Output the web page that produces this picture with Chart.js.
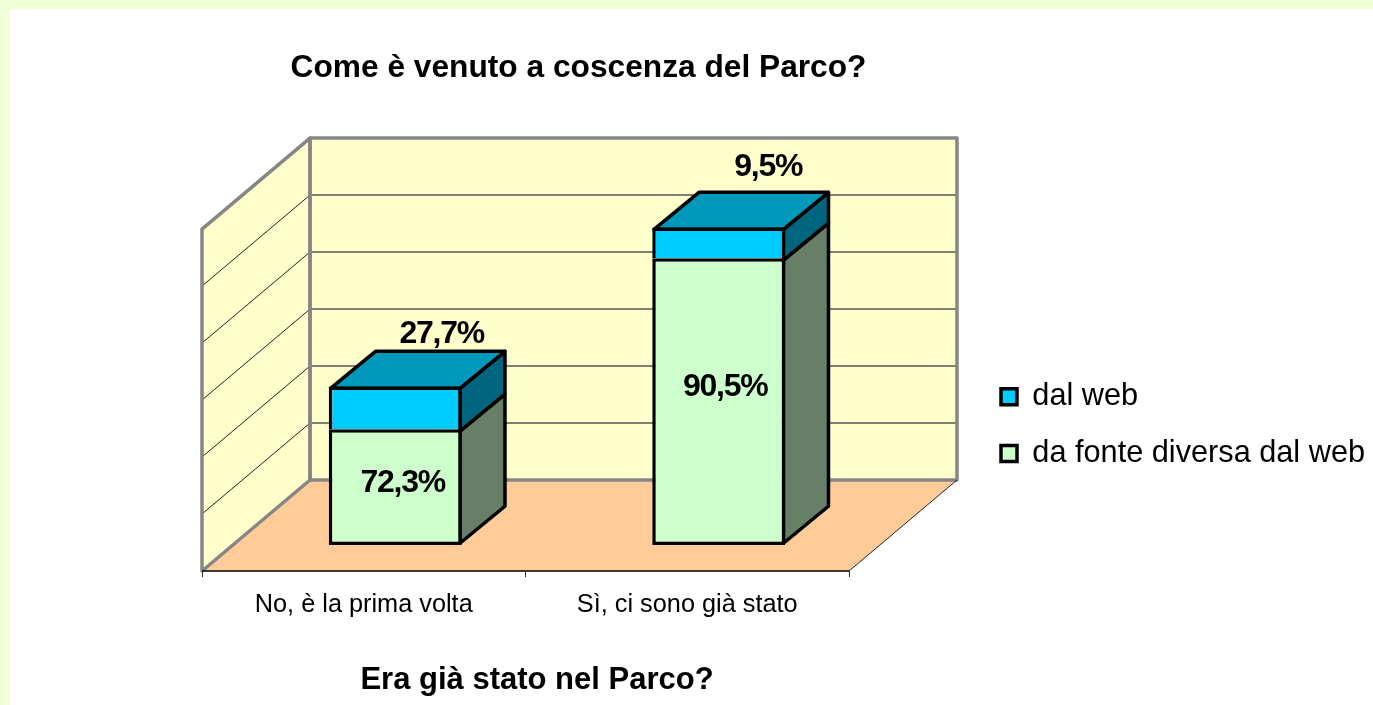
<!DOCTYPE html>
<html lang="it">

<head>
    <meta charset="UTF-8">
    <title>Come è venuto a coscenza del Parco?</title>
    <style>
        html, body { margin: 0; padding: 0; overflow: hidden; background: #fff; }
        canvas { display: block; }
    </style>
</head>

<body>
    <canvas id="myChart" width="1373" height="705"></canvas>

    <script src="https://cdn.jsdelivr.net/npm/chart.js"></script>
    <script>
        const categorie = ['No, è la prima volta', 'Sì, ci sono già stato'];
        const serieNomi = ['da fonte diversa dal web', 'dal web'];
        // bar heights on a 0-60 axis
        const altezzaAltro = [20.3, 50.3];
        const altezzaWeb = [7.5, 5.4];
        // percentages printed on the bars
        const percAltro = [72.3, 90.5];
        const percWeb = [27.7, 9.5];
        const asseMax = 60;
        const asseStep = 10;

        const FONT = '"Liberation Sans", Arial, sans-serif';
        const wall = { dx: 108, dy: -91 };      // depth of the whole 3d box
        const piano = { dx: 31.5, dy: -26 };    // bars stand this far into the box
        const cubo = { dx: 45, dy: -37 };       // depth of one bar
        const bordo = 3.5;
        const nudgeAltro = [[7.5, -4], [6.5, -14]];
        const nudgeWeb = [[46.5, -52], [49.5, -60]];

        function poly(ctx, pts, fill, stroke, lw) {
            ctx.beginPath();
            pts.forEach((p, i) => i ? ctx.lineTo(p[0], p[1]) : ctx.moveTo(p[0], p[1]));
            ctx.closePath();
            if (fill) { ctx.fillStyle = fill; ctx.fill(); }
            if (stroke) { ctx.strokeStyle = stroke; ctx.lineWidth = lw; ctx.stroke(); }
        }

        function line(ctx, x1, y1, x2, y2, color, lw) {
            ctx.beginPath();
            ctx.moveTo(x1, y1);
            ctx.lineTo(x2, y2);
            ctx.strokeStyle = color;
            ctx.lineWidth = lw;
            ctx.stroke();
        }

        const sfondo3d = {
            id: 'sfondo3d',
            afterLayout(chart) {
                // title, legend and axis title do not sit where the layout puts them
                const t = chart.titleBlock;
                t.left = 0;
                t.right = 1157;
                const l = chart.legend;
                l.left = 975;
                l.right = 1373;
                l.top = 355.5;
                l.bottom = 700;
                chart.scales.x.right += 23;
            },
            beforeDraw(chart) {
                const ctx = chart.ctx;
                const a = chart.chartArea;
                const y = chart.scales.y;
                ctx.save();
                ctx.fillStyle = '#F2FFD6';
                ctx.fillRect(0, 0, chart.width, chart.height);
                ctx.fillStyle = '#fff';
                ctx.fillRect(10, 9, chart.width - 10, chart.height - 9);

                const bx1 = a.left + wall.dx, bx2 = a.right + wall.dx;
                const bTop = a.top + wall.dy, bBot = a.bottom + wall.dy;
                ctx.lineJoin = 'round';
                poly(ctx, [[a.left, a.bottom], [bx1, bBot], [bx2, bBot], [a.right, a.bottom]], '#FFCC99');
                poly(ctx, [[a.left, a.top], [bx1, bTop], [bx1, bBot], [a.left, a.bottom]], '#FFFFCC');
                ctx.fillStyle = '#FFFFCC';
                ctx.fillRect(bx1, bTop, bx2 - bx1, bBot - bTop);

                y.ticks.forEach(t => {
                    if (t.value === 0 || t.value === asseMax) return;
                    const py = y.getPixelForValue(t.value);
                    line(ctx, a.left, py, bx1, py + wall.dy, '#222', 1);
                    line(ctx, bx1, py + wall.dy, bx2, py + wall.dy, '#555', 1.5);
                });

                poly(ctx, [[a.left, a.top], [bx1, bTop], [bx1, bBot], [a.left, a.bottom]], null, '#868686', 3.5);
                ctx.strokeStyle = '#868686';
                ctx.strokeRect(bx1, bTop, bx2 - bx1, bBot - bTop);
                line(ctx, a.right, a.bottom, bx2, bBot, '#222', 1);
                line(ctx, a.left, a.bottom, a.right, a.bottom, '#000', 1.5);
                ctx.restore();
            },
            beforeDatasetsDraw(chart) {
                const ctx = chart.ctx;
                ctx.save();
                ctx.translate(piano.dx, piano.dy);
                ctx.lineJoin = 'round';
                const m = bordo / 2;
                const facce = [
                    { meta: chart.getDatasetMeta(0), lato: '#667F66', giu: -m },
                    { meta: chart.getDatasetMeta(1), lato: '#006680', sopra: '#0099BB', giu: m }
                ];
                facce.forEach(f => {
                    f.meta.data.forEach(bar => {
                        const r = bar.x + bar.width / 2 - m;
                        const l = bar.x - bar.width / 2 + m;
                        const top = bar.y + m, bot = bar.base + f.giu;
                        poly(ctx, [[r, top], [r + cubo.dx, top + cubo.dy], [r + cubo.dx, bot + cubo.dy], [r, bot]], f.lato, '#000', bordo);
                        if (f.sopra) {
                            poly(ctx, [[l, top], [l + cubo.dx, top + cubo.dy], [r + cubo.dx, top + cubo.dy], [r, top]], f.sopra, '#000', bordo);
                        }
                    });
                });
            },
            afterDatasetsDraw(chart) {
                const ctx = chart.ctx;
                ctx.restore();
                ctx.save();
                ctx.font = 'bold 32px ' + FONT;
                ctx.letterSpacing = '-1.2px';
                ctx.fillStyle = '#000';
                ctx.textAlign = 'center';
                ctx.textBaseline = 'middle';
                const fmt = v => v.toFixed(1).replace('.', ',') + '%';
                chart.getDatasetMeta(0).data.forEach((bar, i) => {
                    const cy = (bar.y + bar.base) / 2 + piano.dy;
                    ctx.fillText(fmt(percAltro[i]), bar.x + piano.dx + nudgeAltro[i][0], cy + nudgeAltro[i][1]);
                });
                chart.getDatasetMeta(1).data.forEach((bar, i) => {
                    ctx.fillText(fmt(percWeb[i]), bar.x + piano.dx + nudgeWeb[i][0], bar.y + piano.dy + nudgeWeb[i][1]);
                });
                ctx.restore();
            }
        };

        new Chart(document.getElementById('myChart'), {
            type: 'bar',
            data: {
                labels: categorie,
                datasets: [{
                    label: serieNomi[0],
                    data: altezzaAltro,
                    backgroundColor: '#CCFFCC',
                    borderColor: '#000',
                    borderWidth: bordo,
                    borderSkipped: false,
                    clip: false
                }, {
                    label: serieNomi[1],
                    data: altezzaWeb,
                    backgroundColor: '#00CCFF',
                    borderColor: '#000',
                    borderWidth: bordo,
                    borderSkipped: 'bottom',
                    clip: false
                }]
            },
            options: {
                responsive: false,
                animation: false,
                devicePixelRatio: 1,
                layout: { padding: { left: 202, right: 524, top: 49, bottom: 0 } },
                datasets: { bar: { barPercentage: 0.411, categoryPercentage: 1 } },
                scales: {
                    x: {
                        stacked: true,
                        afterFit(scale) { scale.height = 134; },
                        border: { display: false },
                        grid: { drawOnChartArea: false, color: '#333', tickLength: 6 },
                        ticks: {
                            color: '#000',
                            padding: 13,
                            maxRotation: 0,
                            font: { family: FONT, size: 25.3 }
                        },
                        title: {
                            display: true,
                            text: 'Era già stato nel Parco?',
                            color: '#000',
                            padding: { top: 0, bottom: 6.4 },
                            font: { family: FONT, size: 31, weight: 'bold' }
                        }
                    },
                    y: {
                        display: false,
                        stacked: true,
                        min: 0,
                        max: asseMax,
                        ticks: { stepSize: asseStep }
                    }
                },
                plugins: {
                    tooltip: { enabled: false },
                    title: {
                        display: true,
                        text: 'Come è venuto a coscenza del Parco?',
                        color: '#000',
                        padding: { top: 0, bottom: 142 },
                        font: { family: FONT, size: 31.7, weight: 'bold' }
                    },
                    legend: {
                        position: 'chartArea',
                        align: 'start',
                        reverse: true,
                        labels: {
                            color: '#000',
                            boxWidth: 16,
                            boxHeight: 16,
                            padding: 26,
                            font: { family: FONT, size: 30.7 }
                        }
                    }
                }
            },
            plugins: [sfondo3d]
        });
    </script>
</body>

</html>
